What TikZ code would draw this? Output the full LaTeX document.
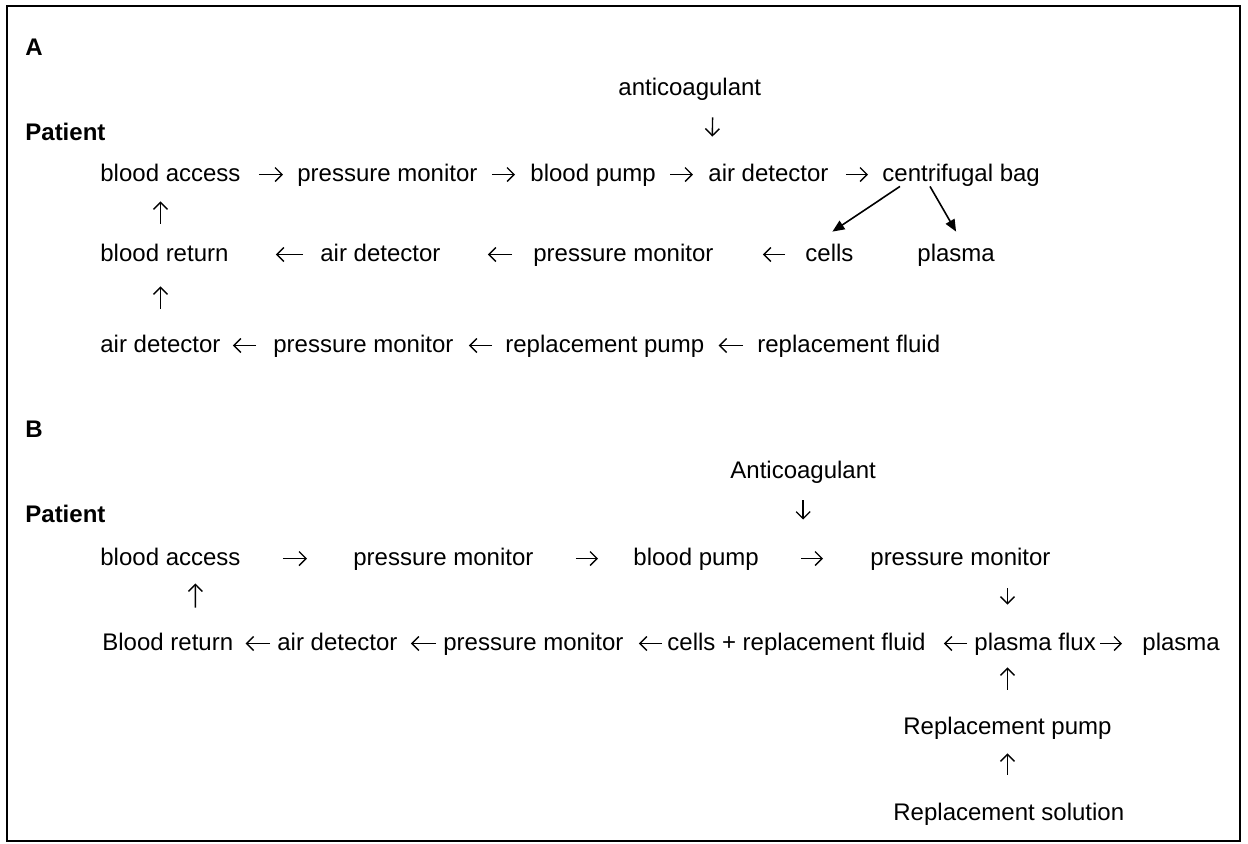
\documentclass[tikz,border=0pt]{standalone}
\usepackage{fontspec}
\setmainfont{Liberation Sans}
\usetikzlibrary{arrows.meta}

\tikzset{
  item/.style={anchor=base west, inner sep=0pt, text height=9pt, text depth=2.5pt, font=\fontsize{12}{14}\selectfont},
  head/.style={item, font=\fontsize{12}{14}\selectfont\bfseries},
  flow/.style={-{Straight Barb[length=3.5pt,width=7pt]}, line width=0.7pt},
  split/.style={-{Triangle[length=6pt,width=5pt]}, line width=0.8pt},
  shrt/.style 2 args={shorten <=#1, shorten >=#2},
}

\begin{document}
\begin{tikzpicture}[x=0.5pt,y=-0.5pt]
\useasboundingbox (0,0) rectangle (1248,843);
\draw[line width=1pt] (7,6) rectangle (1240,841);
% panel A
\node[head] (la) at (25,55) {A};
\node[item] (ant1) at (618,95) {anticoagulant};
\node[head] (pa) at (25,140) {Patient};
\node[item] (a11) at (100,181) {blood access};
\node[item] (a12) at (297,181) {pressure monitor};
\node[item] (a13) at (530,181) {blood pump};
\node[item] (a14) at (708,181) {air detector};
\node[item] (a15) at (882,181) {centrifugal bag};
\node[item] (a21) at (100,261) {blood return};
\node[item] (a22) at (320,261) {air detector};
\node[item] (a23) at (533,261) {pressure monitor};
\node[item] (a24) at (805,261) {cells};
\node[item] (a25) at (917,261) {plasma};
\node[item] (a31) at (100,352) {air detector};
\node[item] (a32) at (273,352) {pressure monitor};
\node[item] (a33) at (505,352) {replacement pump};
\node[item] (a34) at (757,352) {replacement fluid};
\path[flow] (a11) edge[shrt={9pt}{7pt}] (a12) (a12) edge[shrt={7pt}{7.5pt}] (a13)
  (a13) edge[shrt={7pt}{7.5pt}] (a14) (a14) edge[shrt={8.5pt}{7pt}] (a15);
\path[flow] (a22) edge[shrt={8.5pt}{23.5pt}] (a21) (a23) edge[shrt={10.5pt}{23.5pt}] (a22)
  (a24) edge[shrt={10pt}{24.5pt}] (a23);
\path[flow] (a32) edge[shrt={8.5pt}{6pt}] (a31) (a33) edge[shrt={6.5pt}{7.5pt}] (a32)
  (a34) edge[shrt={7pt}{7pt}] (a33);
\path[flow] (a21.north -| a31.north) edge[shrt={9.5pt}{7.5pt}] (a11.south -| a31.north)
  (a31.north) edge[shrt={12.5pt}{10pt}] (a31.north |- a21.south);
\path[flow] ([xshift=11.5pt]ant1.south) edge[shrt={8.5pt}{13pt}] ([xshift=2pt]a14.north west);
\path[split] ([xshift=9pt]a15.south west) edge ([xshift=1.5pt,yshift=5.5pt]a24.north)
  ([xshift=24pt]a15.south west) edge ([yshift=5.5pt]a25.north);
% panel B
\node[head] (lb) at (25,437) {B};
\node[item] (ant2) at (730,478) {Anticoagulant};
\node[head] (pb) at (25,522) {Patient};
\node[item] (b11) at (100,565) {blood access};
\node[item] (b12) at (353,565) {pressure monitor};
\node[item] (b13) at (633,565) {blood pump};
\node[item] (b14) at (870,565) {pressure monitor};
\node[item] (b21) at (102,650) {Blood return};
\node[item] (b22) at (277,650) {air detector};
\node[item] (b23) at (443,650) {pressure monitor};
\node[item] (b24) at (667,650) {cells + replacement fluid};
\node[item] (b25) at (974,650) {plasma flux};
\node[item] (b26) at (1142,650) {plasma};
\node[item] (b31) at (903,734) {Replacement pump};
\node[item] (b41) at (893,820) {Replacement solution};
\path[flow] (b11) edge[shrt={21pt}{23pt}] (b12) (b12) edge[shrt={21pt}{17.5pt}] (b13)
  (b13) edge[shrt={21pt}{23.5pt}] (b14);
\path[flow] (b22) edge[shrt={3.5pt}{6pt}] (b21) (b23) edge[shrt={3.5pt}{6.5pt}] (b22)
  (b24) edge[shrt={2.5pt}{7.5pt}] (b23) (b25) edge[shrt={3.5pt}{9pt}] (b24)
  (b25) edge[shrt={2pt}{10pt}] (b26);
\path[flow] ([xshift=13.75pt]b21.north) edge[shrt={12pt}{6.5pt}] ([xshift=12.5pt]b11.south);
\path[flow] (ant2.south) edge[shrt={8.5pt}{13.5pt}] (ant2.south |- b14.north);
\path[flow] (b14.south -| b31.north) edge[shrt={9pt}{13.5pt}] (b25.north -| b31.north)
  (b31.north) edge[shrt={13pt}{6pt}] (b31.north |- b25.south)
  (b41.north -| b31.north) edge[shrt={13.5pt}{7pt}] (b31.south);
\end{tikzpicture}
\end{document}
